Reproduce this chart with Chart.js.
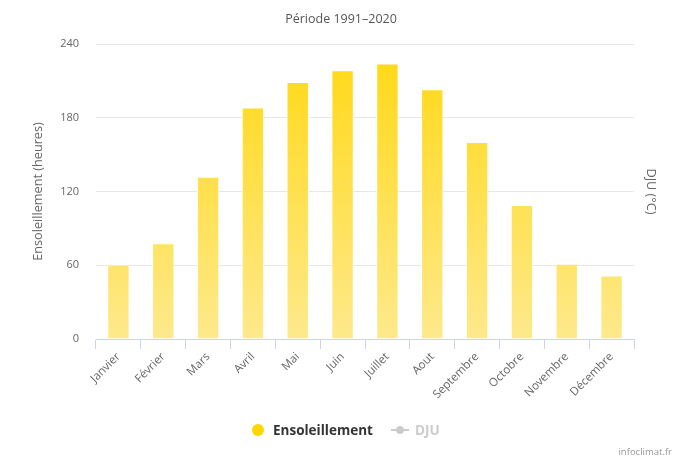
<!DOCTYPE html>
<html>
<head>
<meta charset="utf-8">
<script src="https://cdn.jsdelivr.net/npm/chart.js@4.4.0/dist/chart.umd.min.js"></script>
<style>
  html, body { margin: 0; padding: 0; background: #fff; }
  #wrap { position: relative; width: 684px; height: 460px; font-family: "Open Sans", "DejaVu Sans", sans-serif; }
  #legend { position: absolute; left: 0; top: 421px; width: 684px; height: 18px; font-size: 13.5px; font-weight: bold; }
  .item { position: absolute; top: 0; line-height: 18px; }
  .dot { position: absolute; top: 3px; width: 12px; height: 12px; border-radius: 50%; }
  .line { position: absolute; top: 8px; width: 18px; height: 2px; }
  .pt { position: absolute; top: 5px; width: 8px; height: 8px; border-radius: 50%; }
  #credits { position: absolute; right: 12px; top: 445px; font-size: 9.5px; color: #999; }
</style>
</head>
<body>
<div id="wrap">
  <canvas id="chart" width="684" height="460"></canvas>
  <div id="legend">
    <span class="dot" style="left:252px;background:#ffd700"></span>
    <span class="item" style="left:273px;color:#333">Ensoleillement</span>
    <span class="line" style="left:391px;background:#ccc"></span>
    <span class="pt" style="left:396px;background:#ccc"></span>
    <span class="item" style="left:415px;color:#ccc">DJU</span>
  </div>
  <div id="credits">infoclimat.fr</div>
</div>
<script>
const months = ['Janvier', 'Février', 'Mars', 'Avril', 'Mai', 'Juin', 'Juillet', 'Aout', 'Septembre', 'Octobre', 'Novembre', 'Décembre'];
const sunshine = [60.7, 77.9, 131.9, 188.3, 209, 218.7, 224.2, 203.2, 160.2, 109, 61.3, 51.7];
const dju = [];
const yMin = 0;
const yMax = 240;
const yStep = 60;

const barGradient = (context) => {
  const { ctx, chartArea } = context.chart;
  if (!chartArea) return '#ffdc20';
  const g = ctx.createLinearGradient(0, chartArea.top, 0, chartArea.bottom);
  g.addColorStop(0, '#ffd812');
  g.addColorStop(1, '#fee98c');
  return g;
};

const font = { family: '"Open Sans", "DejaVu Sans", sans-serif', size: 11.5 };

new Chart(document.getElementById('chart'), {
  type: 'bar',
  data: {
    labels: months,
    datasets: [{
      label: 'Ensoleillement',
      data: sunshine,
      backgroundColor: barGradient,
      borderColor: '#ffffff',
      borderWidth: 1,
      categoryPercentage: 1,
      barPercentage: 0.5,
      yAxisID: 'y'
    }, {
      type: 'line',
      label: 'DJU',
      data: dju,
      hidden: true,
      yAxisID: 'y2'
    }]
  },
  options: {
    responsive: false,
    animation: false,
    layout: { padding: { left: 24, right: 26, top: 5, bottom: 59 } },
    plugins: {
      legend: { display: false },
      tooltip: { enabled: false },
      title: {
        display: true,
        text: 'Période 1991–2020',
        color: '#555',
        font: { family: font.family, size: 12.5, weight: 'normal' },
        padding: { top: 7, bottom: 17 }
      }
    },
    scales: {
      x: {
        grid: { drawOnChartArea: false, drawTicks: true, tickLength: 10, color: '#ccd6eb', offset: true },
        border: { display: true, color: '#ccd6eb', width: 1 },
        ticks: { color: '#666', font, minRotation: 45, maxRotation: 45, padding: 1, autoSkip: false },
        afterFit: (s) => { s.height = 62; }
      },
      y: {
        min: yMin,
        max: yMax,
        grid: { color: '#e6e6e6', drawTicks: false },
        border: { display: false },
        ticks: { stepSize: yStep, color: '#666', font: { family: font.family, size: 11 }, padding: 17 },
        title: {
          display: true,
          text: 'Ensoleillement (heures)',
          color: '#666',
          font: { family: font.family, size: 12.7 },
          padding: { top: 7, bottom: 0 }
        },
        afterFit: (s) => { s.width = 72; }
      },
      y2: {
        type: 'linear',
        position: 'right',
        grid: { display: false },
        border: { display: false },
        ticks: { display: false },
        title: {
          display: true,
          text: 'DJU (°C)',
          color: '#666',
          font: { family: font.family, size: 12.7 },
          padding: { top: 0, bottom: 0 }
        },
        afterFit: (s) => { s.width = 24; }
      }
    }
  }
});
</script>
</body>
</html>
